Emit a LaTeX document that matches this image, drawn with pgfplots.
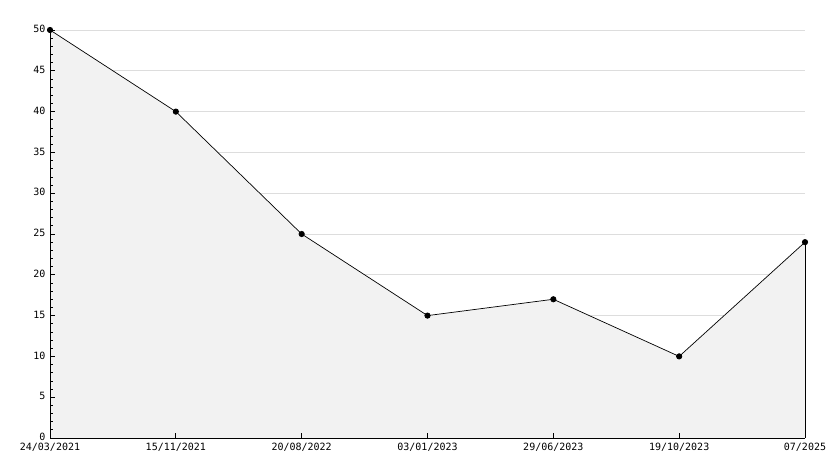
\documentclass[border=0pt]{standalone}
\usepackage{fontspec}
\setmainfont{DejaVu Sans Mono}
\usepackage{pgfplots}
\pgfplotsset{compat=1.18}
\definecolor{areafill}{RGB}{242,242,242}
\definecolor{gridgray}{RGB}{221,221,221}
\pgfplotsset{
  base/.style={
    scale only axis,
    width=755pt, height=408pt,
    at={(0,0)}, anchor=origin,
    xmin=0, xmax=6, ymin=0, ymax=50,
    axis x line=bottom, axis y line=left,
    axis line style={-, line width=0.9pt},
    xtick={0,...,6},
    ytick={0,5,...,50},
    minor y tick num=4,
    tick align=inside,
    major tick length=5pt, minor tick length=3pt,
    tick style={black, line width=0.7pt},
    clip=false,
  }
}
\begin{document}
\begin{tikzpicture}
\begin{axis}[
    base,
    xticklabels={24/03/2021,15/11/2021,20/08/2022,03/01/2023,29/06/2023,19/10/2023,07/2025},
    ymajorgrids, grid style={gridgray, line width=0.6pt},
    tick label style={font=\fontsize{10}{11}\selectfont},
    /pgf/number format/assume math mode=true,
    yticklabel style={xshift=-1pt, yshift=1pt},
    xticklabel style={yshift=-2pt},
]
\addplot[draw=none, fill=areafill] coordinates {
    (0,50) (1,40) (2,25) (3,15) (4,17) (5,10) (6,24)
} \closedcycle;
\addplot[black, line width=0.7pt, mark=*, mark size=2.7pt,
    mark options={fill=black}] coordinates {
    (0,50) (1,40) (2,25) (3,15) (4,17) (5,10) (6,24)
};
\draw[black, line width=0.9pt] (axis cs:6,0) -- (axis cs:6,24);
\end{axis}
\begin{axis}[base, axis on top, xticklabels={}, yticklabels={}]
\end{axis}
\path[use as bounding box] (-50pt,-30pt) rectangle (784pt,438pt);
\end{tikzpicture}
\end{document}
